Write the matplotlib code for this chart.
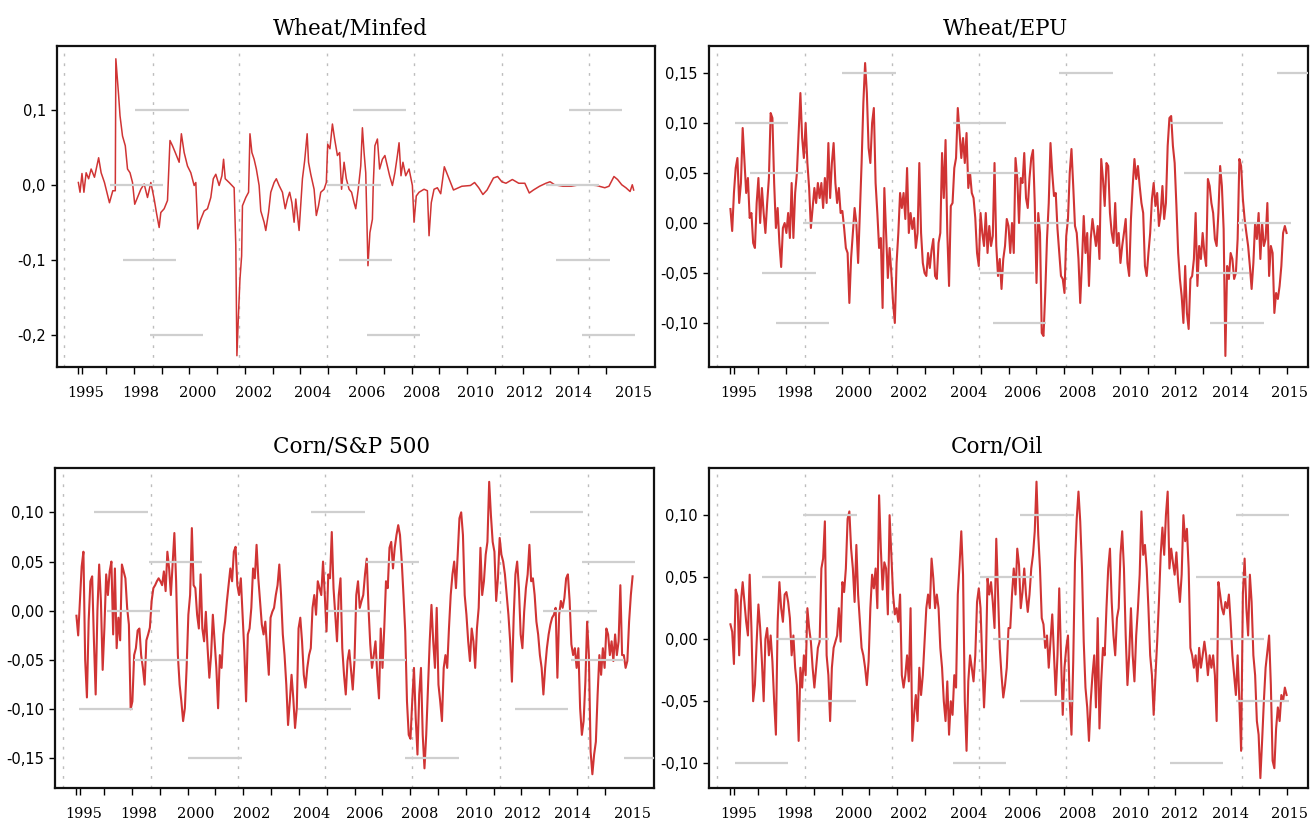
import numpy as np
import matplotlib
matplotlib.use("Agg")
import matplotlib.pyplot as plt

# ---- data ---------------------------------------------------------------
# Wheat/Minfed: (year, value) readings, the series is flat after 2008
minfed_t = [1995.00, 1995.06, 1995.13, 1995.20, 1995.28, 1995.37, 1995.46, 1995.58, 1995.73, 1995.82,
            1995.94, 1996.12, 1996.24, 1996.33, 1996.35, 1996.45, 1996.50, 1996.59, 1996.69, 1996.77,
            1996.86, 1996.95, 1997.03, 1997.13, 1997.25, 1997.37, 1997.49, 1997.61, 1997.73, 1997.82,
            1997.91, 1997.97, 1998.09, 1998.21, 1998.30, 1998.39, 1998.49, 1998.63, 1998.71, 1998.81,
            1998.93, 1999.05, 1999.17, 1999.23, 1999.30, 1999.41, 1999.53, 1999.65, 1999.77, 1999.86,
            1999.95, 2000.07, 2000.17, 2000.23, 2000.29, 2000.43, 2000.61, 2000.67, 2000.71, 2000.76,
            2000.82, 2000.88, 2000.91, 2001.03, 2001.13, 2001.18, 2001.25, 2001.33, 2001.41, 2001.51,
            2001.57, 2001.69, 2001.75, 2001.85, 2001.93, 2002.05, 2002.13, 2002.23, 2002.35, 2002.45,
            2002.53, 2002.61, 2002.69, 2002.77, 2002.83, 2002.95, 2003.07, 2003.15, 2003.24, 2003.29,
            2003.37, 2003.49, 2003.57, 2003.65, 2003.73, 2003.85, 2003.93, 2003.98, 2004.06, 2004.15,
            2004.23, 2004.33, 2004.41, 2004.48, 2004.57, 2004.65, 2004.75, 2004.84, 2004.93, 2004.99,
            2005.08, 2005.17, 2005.23, 2005.29, 2005.35, 2005.43, 2005.50, 2005.59, 2005.62, 2005.68,
            2005.77, 2005.85, 2005.95, 2006.04, 2006.13, 2006.21, 2006.31, 2006.40, 2006.49, 2006.55,
            2006.62, 2006.69, 2006.79, 2006.91, 2007.03, 2007.09, 2007.17, 2007.27, 2007.45, 2007.57,
            2007.63, 2007.71, 2007.81, 2007.93, 2008.05, 2008.18, 2008.36, 2008.51, 2008.81, 2009.12,
            2009.27, 2009.42, 2009.57, 2009.72, 2009.95, 2010.10, 2010.25, 2010.40, 2010.63, 2010.86,
            2011.08, 2011.24, 2011.39, 2011.61, 2011.84, 2011.99, 2012.15, 2012.45, 2012.75, 2013.05,
            2013.36, 2013.66, 2013.96, 2014.11, 2014.29, 2014.42, 2014.57, 2014.72, 2014.87, 2014.95,
            2015.00]
minfed = [0.003, -0.010, 0.015, -0.010, 0.016, 0.008, 0.021, 0.010, 0.036, 0.016,
          0.003, -0.024, -0.008, -0.008, 0.168, 0.119, 0.092, 0.065, 0.052, 0.021,
          0.016, 0.003, -0.026, -0.017, -0.006, 0.001, -0.017, 0.003, -0.019, -0.039,
          -0.057, -0.037, -0.032, -0.021, 0.059, 0.052, 0.043, 0.030, 0.068, 0.043,
          0.025, 0.016, -0.001, 0.003, -0.059, -0.046, -0.035, -0.032, -0.017, 0.008,
          0.014, -0.001, 0.012, 0.034, 0.008, 0.003, -0.004, -0.081, -0.228, -0.179,
          -0.126, -0.095, -0.028, -0.017, -0.010, 0.068, 0.043, 0.034, 0.021, -0.001,
          -0.035, -0.050, -0.061, -0.037, -0.010, 0.003, 0.008, -0.001, -0.010, -0.032,
          -0.019, -0.010, -0.024, -0.050, -0.019, -0.061, 0.008, 0.032, 0.068, 0.030,
          0.014, -0.006, -0.041, -0.028, -0.010, -0.006, 0.003, 0.054, 0.048, 0.081,
          0.061, 0.039, 0.043, -0.006, 0.030, 0.008, -0.006, -0.010, -0.024, -0.032,
          -0.006, 0.025, 0.076, 0.043, 0.016, -0.108, -0.064, -0.046, -0.001, 0.052,
          0.061, 0.021, 0.034, 0.039, 0.025, 0.012, -0.001, 0.016, 0.039, 0.056,
          0.012, 0.030, 0.012, 0.021, -0.001, -0.050, -0.015, -0.010, -0.006, -0.008,
          -0.068, -0.024, -0.006, -0.004, -0.012, 0.024, 0.007, -0.007, -0.002, -0.001,
          0.003, -0.004, -0.013, -0.007, 0.009, 0.011, 0.004, 0.002, 0.007, 0.002,
          0.002, -0.011, -0.007, -0.002, 0.002, 0.004, 0.000, -0.002, -0.002, 0.000,
          0.000, -0.001, -0.004, -0.002, 0.011, 0.007, 0.000, -0.004, -0.009, 0.000,
          -0.007]

# the other three: 16 readings a year, 1995.0 .. 2015.0
wheat_epu = [
    0.014, -0.008, 0.03, 0.055, 0.065, 0.02, 0.04, 0.095, 0.062, 0.03, 0.045, 0.005, 0.01, -0.02, -0.025, 0.02,
    0.045, 0.0, 0.035, 0.01, -0.01, 0.02, 0.045, 0.11, 0.105, 0.04, -0.005, 0.015, -0.02, -0.044, -0.005, 0.0,
    -0.01, 0.01, -0.015, 0.04, -0.015, 0.03, 0.05, 0.09, 0.13, 0.085, 0.065, 0.1, 0.06, 0.035, -0.005, 0.015,
    0.035, 0.02, 0.04, 0.025, 0.04, 0.015, 0.045, 0.02, 0.08, 0.025, 0.06, 0.08, 0.04, 0.02, 0.035, 0.01,
    0.012, -0.005, -0.025, -0.03, -0.08, -0.035, -0.01, 0.015, 0.0, -0.04, 0.01, 0.06, 0.12, 0.16, 0.13, 0.075,
    0.06, 0.1, 0.115, 0.04, 0.01, -0.025, -0.015, -0.085, 0.035, -0.01, -0.055, -0.025, -0.05, -0.08, -0.1, -0.04,
    -0.01, 0.03, 0.015, 0.03, 0.004, 0.055, -0.01, 0.01, -0.006, 0.005, -0.025, -0.01, 0.06, -0.01, -0.04, -0.05,
    -0.053, -0.03, -0.045, -0.027, -0.016, -0.053, -0.056, -0.02, -0.01, 0.07, 0.025, 0.083, -0.01, -0.063, 0.017, 0.02,
    0.055, 0.065, 0.115, 0.09, 0.065, 0.085, 0.06, 0.09, 0.035, 0.05, 0.03, 0.025, 0.005, -0.03, -0.043, 0.01,
    -0.01, -0.023, 0.01, -0.03, -0.003, -0.023, -0.013, 0.06, -0.023, -0.053, -0.036, -0.066, -0.036, -0.023, 0.004, -0.003,
    -0.03, 0.0, -0.03, 0.065, 0.045, 0.0, 0.045, 0.04, 0.07, 0.025, 0.015, 0.045, 0.065, 0.073, 0.02, -0.06,
    0.01, -0.01, -0.11, -0.113, -0.07, -0.016, 0.02, 0.08, 0.05, 0.027, 0.03, -0.006, -0.03, -0.053, -0.056, -0.07,
    -0.013, 0.004, 0.05, 0.074, 0.037, -0.003, -0.01, -0.036, -0.08, -0.04, 0.007, -0.03, -0.01, -0.063, -0.016, 0.004,
    -0.01, -0.023, -0.003, -0.036, 0.064, 0.044, 0.017, 0.06, 0.057, 0.01, -0.01, -0.02, 0.02, -0.023, -0.01, -0.04,
    -0.023, -0.01, 0.004, -0.04, -0.053, 0.004, 0.037, 0.064, 0.044, 0.057, 0.037, 0.02, 0.01, -0.043, -0.053, -0.03,
    -0.01, 0.024, 0.04, 0.017, 0.03, -0.003, 0.01, 0.037, 0.004, 0.02, 0.077, 0.105, 0.107, 0.077, 0.06, 0.017,
    -0.03, -0.056, -0.073, -0.1, -0.043, -0.09, -0.106, -0.056, -0.053, -0.036, 0.01, -0.063, -0.023, -0.036, -0.01, -0.03,
    -0.043, 0.044, 0.037, 0.02, 0.01, -0.016, -0.023, 0.01, 0.057, 0.037, -0.006, -0.133, -0.043, -0.056, -0.03, -0.036,
    -0.056, -0.05, -0.016, 0.064, 0.057, 0.024, 0.004, -0.01, -0.023, -0.043, -0.066, -0.04, 0.0, -0.016, 0.01, -0.036,
    0.0, -0.023, -0.016, 0.02, -0.053, -0.023, -0.03, -0.09, -0.07, -0.076, -0.063, -0.043, -0.01, -0.003, -0.01]

corn_sp500 = [
    -0.005, -0.025, 0.01, 0.045, 0.06, -0.05, -0.088, -0.01, 0.03, 0.035, -0.03, -0.085, 0.0, 0.047, 0.01, -0.06,
    -0.017, 0.037, 0.016, 0.04, 0.05, -0.024, 0.043, -0.038, -0.007, -0.03, 0.047, 0.04, 0.033, 0.003, -0.014, -0.1,
    -0.092, -0.045, -0.038, -0.02, -0.018, -0.045, -0.058, -0.075, -0.03, -0.024, -0.017, 0.01, 0.023, 0.026, 0.03, 0.033,
    0.03, 0.026, 0.04, 0.02, 0.06, 0.043, 0.016, 0.047, 0.079, 0.03, -0.045, -0.075, -0.092, -0.112, -0.099, -0.058,
    -0.004, 0.016, 0.084, 0.026, 0.023, -0.004, -0.018, 0.037, -0.018, -0.031, -0.001, -0.038, -0.068, -0.045, -0.004, -0.031,
    -0.058, -0.099, -0.045, -0.058, -0.024, -0.011, 0.009, 0.026, 0.043, 0.03, 0.06, 0.065, 0.026, 0.016, 0.033, -0.004,
    -0.041, -0.092, -0.024, -0.018, 0.003, 0.043, 0.033, 0.067, 0.033, 0.01, -0.014, -0.024, -0.011, -0.038, -0.065, -0.007,
    -0.001, 0.003, 0.016, 0.026, 0.047, 0.016, -0.024, -0.045, -0.075, -0.116, -0.092, -0.065, -0.089, -0.119, -0.099, -0.018,
    -0.007, -0.031, -0.065, -0.078, -0.058, -0.045, -0.038, 0.003, 0.016, -0.004, 0.03, 0.023, 0.016, 0.05, 0.016, -0.021,
    0.037, 0.033, 0.08, 0.023, -0.004, -0.031, 0.016, 0.033, -0.038, -0.065, -0.085, -0.051, -0.04, -0.06, -0.08, -0.05,
    0.016, 0.03, 0.003, 0.01, 0.016, 0.037, 0.053, 0.003, -0.034, -0.058, -0.045, -0.031, -0.065, -0.089, -0.018, -0.058,
    -0.018, 0.03, 0.023, 0.064, 0.07, 0.043, 0.064, 0.077, 0.087, 0.077, 0.05, 0.016, -0.021, -0.092, -0.126, -0.13,
    -0.092, -0.058, -0.109, -0.146, -0.085, -0.058, -0.126, -0.16, -0.126, -0.078, -0.031, 0.006, -0.031, -0.058, 0.003, -0.075,
    -0.092, -0.112, -0.058, -0.045, -0.058, -0.018, 0.016, 0.037, 0.05, 0.023, 0.057, 0.094, 0.1, 0.077, 0.016, -0.004,
    -0.031, -0.051, -0.018, -0.031, -0.058, -0.018, 0.003, 0.064, 0.016, 0.03, 0.057, 0.07, 0.131, 0.097, 0.07, 0.06,
    0.01, 0.033, 0.074, 0.057, 0.05, 0.037, 0.016, -0.004, -0.031, -0.072, -0.007, 0.037, 0.05, 0.023, -0.024, -0.038,
    -0.001, 0.023, 0.037, 0.067, 0.03, 0.033, 0.016, -0.011, -0.024, -0.045, -0.058, -0.085, -0.058, -0.038, -0.024, -0.014,
    -0.007, -0.004, 0.003, -0.068, -0.004, 0.01, 0.003, 0.013, 0.033, 0.037, 0.01, -0.034, -0.045, -0.038, -0.058, -0.038,
    -0.099, -0.126, -0.112, -0.072, -0.011, -0.045, -0.143, -0.166, -0.146, -0.133, -0.085, -0.045, -0.065, -0.038, -0.058, -0.018,
    -0.024, -0.045, -0.031, -0.051, -0.024, -0.045, -0.031, 0.026, -0.045, -0.045, -0.058, -0.051, -0.011, 0.016, 0.035]

corn_oil = [
    0.012, 0.006, -0.02, 0.04, 0.035, -0.013, 0.03, 0.046, 0.03, 0.014, 0.003, 0.052, 0.009, -0.05, -0.037, -0.002,
    0.028, 0.009, -0.018, -0.05, 0.0, 0.009, -0.013, 0.003, -0.018, -0.05, -0.077, 0.014, 0.046, 0.025, 0.014, 0.036,
    0.038, 0.03, 0.017, -0.013, 0.003, -0.023, -0.037, -0.082, -0.023, -0.039, -0.013, -0.029, 0.025, 0.009, -0.002, -0.023,
    -0.039, -0.023, -0.007, -0.002, 0.057, 0.065, 0.095, -0.013, -0.029, -0.066, -0.023, -0.007, -0.002, 0.003, 0.025, -0.002,
    0.046, 0.038, 0.057, 0.097, 0.103, 0.073, 0.057, 0.03, 0.076, 0.036, 0.014, -0.007, -0.013, -0.023, -0.037, -0.018,
    0.025, 0.052, 0.041, 0.057, 0.025, 0.116, 0.073, 0.04, 0.062, 0.057, 0.02, 0.1, 0.068, 0.036, 0.02, 0.025,
    0.014, 0.036, -0.029, -0.039, -0.029, -0.013, -0.034, 0.025, -0.082, -0.061, -0.045, -0.066, -0.023, -0.045, -0.029, -0.002,
    0.025, 0.036, 0.025, 0.065, 0.049, 0.025, 0.036, 0.025, -0.007, -0.023, -0.05, -0.066, -0.034, -0.077, -0.05, -0.061,
    -0.029, -0.039, 0.036, 0.06, 0.087, 0.052, -0.05, -0.09, -0.034, -0.013, -0.023, -0.034, -0.013, 0.03, 0.041, 0.025,
    -0.018, -0.055, -0.023, 0.049, 0.036, 0.046, 0.03, 0.009, 0.081, 0.036, -0.007, -0.029, -0.047, -0.037, -0.023, 0.009,
    0.009, 0.036, 0.057, 0.036, 0.073, 0.06, 0.025, 0.038, 0.057, 0.036, 0.022, 0.036, 0.057, 0.068, 0.087, 0.127,
    0.084, 0.057, 0.017, 0.012, -0.007, 0.003, -0.023, -0.002, 0.02, -0.013, -0.045, -0.013, 0.041, -0.013, -0.061, -0.023,
    -0.007, 0.003, -0.05, -0.077, -0.018, 0.062, 0.097, 0.119, 0.095, 0.057, -0.002, -0.039, -0.055, -0.082, -0.05, -0.029,
    -0.013, -0.055, 0.017, -0.072, -0.034, -0.007, -0.013, 0.025, 0.057, 0.073, 0.03, 0.003, -0.013, 0.017, 0.025, 0.068,
    0.087, 0.057, 0.003, -0.037, -0.013, 0.025, -0.013, -0.034, 0.003, 0.025, 0.052, 0.103, 0.068, 0.076, 0.057, 0.025,
    -0.013, -0.029, -0.061, -0.03, -0.002, 0.03, 0.068, 0.09, 0.068, 0.1, 0.119, 0.057, 0.073, 0.062, 0.052, 0.07,
    0.046, 0.03, 0.052, 0.1, 0.079, 0.089, 0.057, -0.007, -0.013, -0.023, -0.013, -0.034, -0.007, -0.023, -0.013, -0.002,
    -0.013, -0.029, -0.013, -0.023, -0.013, -0.029, -0.066, 0.046, 0.036, 0.025, 0.02, 0.03, 0.025, 0.036, 0.014, -0.013,
    -0.029, -0.045, -0.013, -0.05, -0.09, 0.036, 0.065, 0.025, 0.003, 0.052, 0.03, -0.013, -0.029, -0.066, -0.077, -0.112,
    -0.082, -0.05, -0.023, -0.01, 0.003, -0.037, -0.098, -0.104, -0.072, -0.055, -0.066, -0.045, -0.05, -0.039, -0.045]

titles = ["Wheat/Minfed", "Wheat/EPU", "Corn/S&P 500", "Corn/Oil"]

year_labels = ["1995", "1998", "2000", "2002", "2004", "2006", "2008", "2010", "2012", "2014", "2015"]
label_pos_left = [1995.25, 1997.25, 1999.3, 2001.3, 2003.45, 2005.38, 2007.35, 2009.3, 2011.05, 2012.85, 2015.0]
label_pos_right = [1995.3, 1997.32, 1999.42, 2001.42, 2003.58, 2005.52, 2007.47, 2009.4, 2011.15, 2012.97, 2015.1]

yticks = [[-0.2, -0.1, 0.0, 0.1],
          [-0.10, -0.05, 0.0, 0.05, 0.10, 0.15],
          [-0.15, -0.10, -0.05, 0.0, 0.05, 0.10],
          [-0.10, -0.05, 0.0, 0.05, 0.10]]
ytick_labels = [["-0,2", "-0,1", "0,0", "0,1"],
                ["-0,10", "-0,05", "0,00", "0,05", "0,10", "0,15"],
                ["-0,15", "-0,10", "-0,05", "0,00", "0,05", "0,10"],
                ["-0,10", "-0,05", "0,00", "0,05", "0,10"]]
ylims = [(-0.243, 0.185), (-0.144, 0.177), (-0.18, 0.145), (-0.12, 0.138)]

# broken grey grid pieces of the original rendering: {level: start years}
grid_bits = [
    {0.1: [1997.05, 2004.88, 2012.67], 0.0: [1996.13, 2003.97, 2011.84],
     -0.1: [1996.60, 2004.39, 2012.22], -0.2: [1997.58, 2005.38, 2013.13]},
    {0.15: [1999.03, 2006.82, 2014.65], 0.10: [1995.15, 2002.99, 2010.79],
     0.05: [1995.69, 2003.49, 2011.31], 0.0: [1997.62, 2005.42, 2013.25],
     -0.05: [1996.14, 2003.98, 2011.73], -0.10: [1996.64, 2004.43, 2012.26]},
    {0.10: [1995.64, 2003.45, 2011.31], 0.05: [1997.61, 2005.41, 2013.18],
     0.0: [1996.09, 2003.98, 2011.79], -0.05: [1997.08, 2004.94, 2012.78],
     -0.10: [1995.11, 2002.96, 2010.76], -0.15: [1999.02, 2006.82, 2014.68]},
    {0.10: [1997.62, 2005.42, 2013.17], 0.05: [1996.14, 2003.98, 2011.73],
     0.0: [1996.64, 2004.43, 2012.26], -0.05: [1997.59, 2005.42, 2013.17],
     -0.10: [1995.15, 2002.99, 2010.79]},
]
bit_len = 1.92
vgrid_years = [1994.5, 1997.68, 2000.8, 2003.95, 2007.08, 2010.24, 2013.38]

# ---- figure --------------------------------------------------------------
RED = "#d03434"
fig = plt.figure(figsize=(13.13, 8.25), dpi=100)

boxes = [[0.0434, 0.5552, 0.4555, 0.389],
         [0.5400, 0.5552, 0.4562, 0.389],
         [0.0419, 0.0448, 0.4562, 0.3879],
         [0.5400, 0.0448, 0.4562, 0.3879]]

t16 = np.linspace(1995, 2015, len(wheat_epu))
series = [(minfed_t, minfed),
          (t16, wheat_epu),
          (np.linspace(1995, 2015, len(corn_sp500)), corn_sp500),
          (np.linspace(1995, 2015, len(corn_oil)), corn_oil)]
line_w = [1.1, 1.5, 1.5, 1.5]
title_pads = [8, 8, 11, 11]
title_x = [0.49, 0.495, 0.495, 0.48]

for i in range(4):
    ax = fig.add_axes(boxes[i])
    x, y = series[i]

    for v in vgrid_years:
        ax.axvline(v, color="#bdbdbd", lw=1.0, ls=(0, (2, 5)), zorder=1)

    ax.plot(x, y, color=RED, lw=line_w[i], zorder=2)

    for level, starts in grid_bits[i].items():
        for s in starts:
            ax.hlines(level, s, s + bit_len, color="#cfcfcf", lw=1.6, zorder=3)

    ax.set_xlim(1994.23, 2015.77)
    ax.set_ylim(*ylims[i])

    ax.set_yticks(yticks[i])
    ax.set_yticklabels(ytick_labels[i], fontfamily="DejaVu Sans", fontsize=10.5)
    ax.tick_params(axis="y", direction="out", length=4, width=1, pad=4)

    lp = label_pos_left if i % 2 == 0 else label_pos_right
    ax.set_xticks(lp)
    ax.set_xticklabels(year_labels, fontfamily="DejaVu Serif", fontsize=10.5)
    ax.set_xticks(list(np.arange(1995, 2016)) + [1995.12], minor=True)
    ax.tick_params(axis="x", which="major", length=0, pad=14)
    ax.tick_params(axis="x", which="minor", direction="out", length=5, width=1)

    for sp in ax.spines.values():
        sp.set_linewidth(1.6)
        sp.set_color("#111111")

    ax.set_title(titles[i], fontfamily="DejaVu Serif", fontsize=15.5,
                 pad=title_pads[i], x=title_x[i])

fig.savefig("out.png", dpi=100)
